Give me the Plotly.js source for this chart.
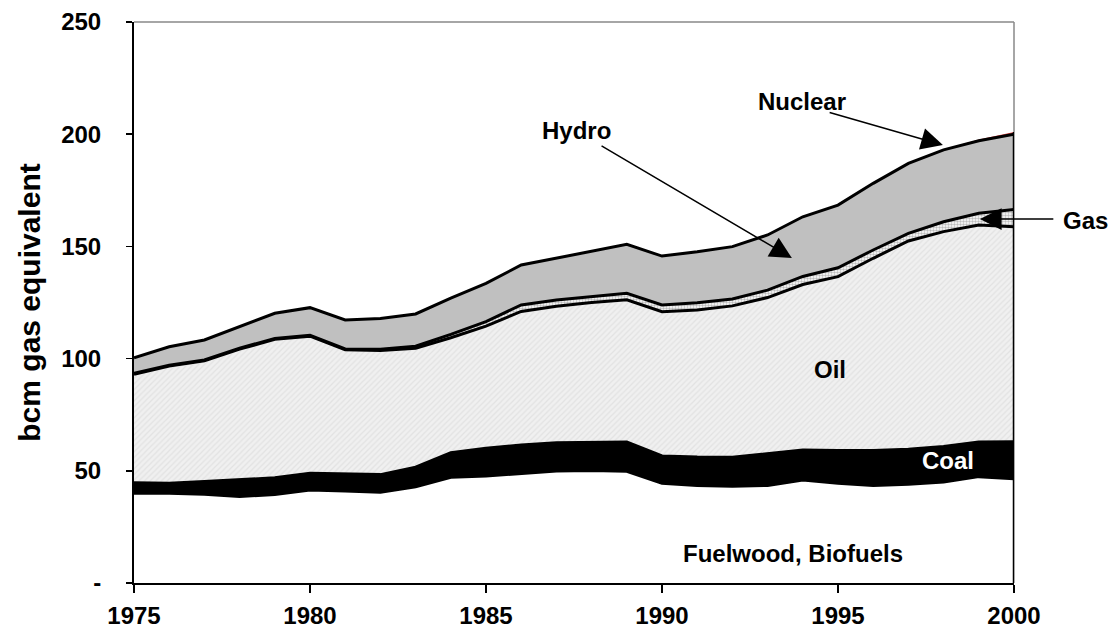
<!DOCTYPE html>
<html>
<head>
<meta charset="utf-8">
<script src="https://cdn.plot.ly/plotly-3.0.1.min.js"></script>
<style>html,body{margin:0;padding:0;background:#fff;}#chart{width:1112px;height:635px;}</style>
</head>
<body>
<div id="chart"></div>
<script>
var years = [1975,1976,1977,1978,1979,1980,1981,1982,1983,1984,1985,1986,1987,1988,1989,1990,1991,1992,1993,1994,1995,1996,1997,1998,1999,2000];
var fuelwood = [40.0,40.0,39.5,38.6,39.4,41.4,41.0,40.4,42.9,47.1,47.7,48.9,49.9,50.1,49.8,44.4,43.5,43.1,43.5,45.9,44.4,43.5,44.0,45.0,47.4,46.5];
var coal = [4.7,4.4,5.7,7.3,7.5,7.5,7.6,7.9,8.7,11.0,12.3,12.6,12.6,12.7,13.0,12.2,12.6,12.9,14.0,13.4,14.6,15.5,15.6,15.8,15.4,16.4];
var oil = [48.3,52.3,53.8,58.3,61.7,61.1,55.3,55.3,53.0,51.2,54.5,59.5,60.8,62.2,63.4,64.3,65.6,67.5,69.7,73.7,77.5,85.7,92.8,95.8,96.7,95.9];
var gas = [0.4,0.4,0.4,0.4,0.4,0.4,0.4,0.6,0.9,1.5,2.0,2.9,2.8,2.6,2.9,3.0,3.2,3.1,3.3,3.6,4.0,3.7,3.4,4.4,5.3,7.7];
var hydro = [7.0,8.2,8.9,9.6,11.2,12.3,12.9,13.7,14.4,16.2,17.0,17.8,18.6,20.0,21.8,21.8,22.7,23.3,24.6,26.6,27.9,29.7,31.2,32.0,32.3,33.5];
var nuclear = [0,0,0,0,0,0,0,0,0,0,0,0,0,0,0,0,0,0,0,0,0,0,0,0.2,0.5,1.0];
var yTickVals = [0,50,100,150,200,250];
var yTickText = ['-','50','100','150','200','250'];
var xTickVals = [1975,1980,1985,1990,1995,2000];

var FONT = 'Liberation Sans, Arial, sans-serif';
var last = years.length - 1;
var totalLast = fuelwood[last]+coal[last]+oil[last]+gas[last]+hydro[last]+nuclear[last];

function layer(name, y, fill, lineW, extra) {
  var t = {x: years, y: y, name: name, type: 'scatter', mode: 'lines',
    stackgroup: 'one', fillcolor: fill,
    line: {color: '#000', width: lineW, shape: 'linear'}, hoverinfo: 'skip'};
  for (var k in extra) t[k] = extra[k];
  return t;
}

var traces = [
  layer('Fuelwood, Biofuels', fuelwood, '#ffffff', 3, {}),
  layer('Coal', coal, '#000000', 3, {}),
  layer('Oil', oil, '#efefef', 3, {fillpattern: {shape: '/', bgcolor: '#f0f0f0', fgcolor: '#e2e2e2', size: 4, solidity: 0.3}}),
  layer('Gas', gas, '#e8e8e8', 3, {fillpattern: {shape: '.', bgcolor: '#ffffff', fgcolor: '#bdbdbd', size: 3, solidity: 0.5}}),
  layer('Hydro', hydro, '#c0c0c0', 3, {}),
  layer('Nuclear', nuclear, '#e04040', 0, {}),
  {x: [years[last], years[last]], y: [0, totalLast], type: 'scatter', mode: 'lines',
   line: {color: '#000', width: 2.5}, cliponaxis: false, hoverinfo: 'skip', showlegend: false}
];

function label(text, x, y, opts) {
  var a = {text: text, x: x, y: y, xref: 'x', yref: 'y', showarrow: false,
    font: {family: FONT, size: 24, color: '#000', weight: 'bold'}, xanchor: 'center', yanchor: 'middle'};
  for (var k in opts) a[k] = opts[k];
  return a;
}
function arrow(x, y, ax, ay) {
  return {text: '', x: x, y: y, ax: ax, ay: ay, xref: 'x', yref: 'y', axref: 'x', ayref: 'y',
    showarrow: true, arrowhead: 2, arrowsize: 2.9, arrowwidth: 1.5, arrowcolor: '#000', standoff: 0, startstandoff: 0};
}

var layout = {
  width: 1112, height: 635,
  margin: {l: 134, r: 98, t: 22, b: 52},
  paper_bgcolor: '#fff', plot_bgcolor: '#fff',
  showlegend: false, hovermode: false,
  font: {family: FONT, color: '#000'},
  xaxis: {range: [1975, 2000], tickvals: xTickVals, ticks: 'outside', ticklen: 8, tickwidth: 1.5, tickcolor: '#000',
    showline: true, linecolor: '#000', linewidth: 2, showgrid: false, zeroline: false,
    tickfont: {family: FONT, size: 24, color: '#000', weight: 'bold'}, ticklabelstandoff: 2, fixedrange: true},
  yaxis: {range: [0, 250], tickvals: yTickVals, ticktext: yTickText, ticks: 'outside', ticklen: 6, tickwidth: 1.5, tickcolor: '#000',
    showline: true, linecolor: '#000', linewidth: 2, showgrid: false, zeroline: false,
    tickfont: {family: FONT, size: 24, color: '#000', weight: 'bold'}, ticklabelstandoff: 20,
    title: {text: 'bcm gas equivalent', font: {family: FONT, size: 30, color: '#000', weight: 'bold'}, standoff: 12}, fixedrange: true},
  shapes: [
    {type: 'line', xref: 'paper', yref: 'paper', x0: 0, x1: 1, y0: 1, y1: 1, line: {color: '#888', width: 1.5}, layer: 'below'},
    {type: 'line', xref: 'paper', yref: 'paper', x0: 1, x1: 1, y0: 0, y1: 1, line: {color: '#888', width: 1.5}, layer: 'below'}
  ],
  annotations: [
    arrow(1997.98, 195.2, 1994.72, 209.9),
    arrow(1993.69, 144.8, 1988.24, 195.2),
    arrow(1999.03, 162.2, 2001.16, 162.2),
    label('Nuclear', 1993.99, 214.5, {}),
    label('Hydro', 1987.58, 201.7, {}),
    label('Gas', 1.0807, 0.6457, {xref: 'paper', yref: 'paper'}),
    label('Oil', 1994.77, 95.3, {}),
    label('Coal', 1998.13, 54.5, {font: {family: FONT, size: 24, color: '#fff', weight: 'bold'}}),
    label('Fuelwood, Biofuels', 1996.90, 13.1, {xanchor: 'right'})
  ]
};

Plotly.newPlot('chart', traces, layout, {displayModeBar: false, staticPlot: true});
</script>
</body>
</html>
